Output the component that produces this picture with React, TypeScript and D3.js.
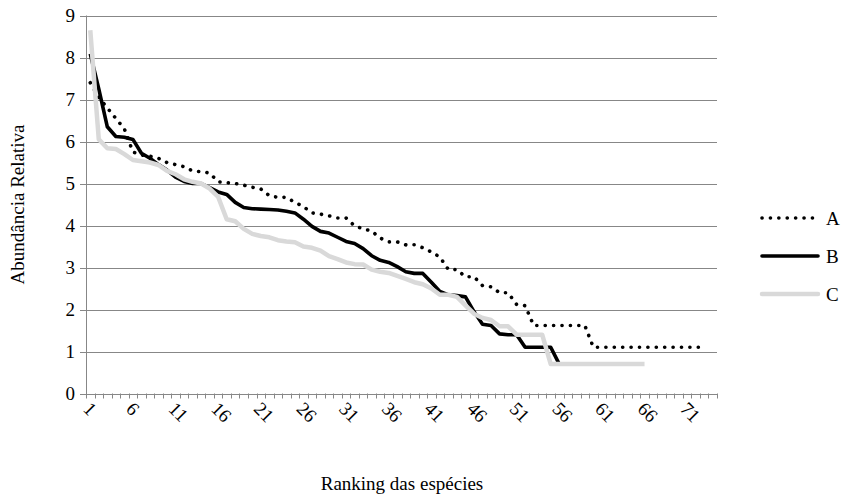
import React from "react";
import * as d3 from "d3";

const categories: string[] = d3.range(1, 75).map(String);
const tickLabels: string[] = ["1","6","11","16","21","26","31","36","41","46","51","56","61","66","71"];
const yTicks: number[] = [0,1,2,3,4,5,6,7,8,9];

const seriesA: number[] = [
  7.4, 7.05, 6.8, 6.55, 6.3, 5.75, 5.68, 5.65, 5.6, 5.5,
  5.45, 5.4, 5.3, 5.28, 5.25, 5.04, 5.02, 5.0, 4.96, 4.91,
  4.87, 4.71, 4.67, 4.67, 4.55, 4.45, 4.3, 4.27, 4.23, 4.18,
  4.18, 3.99, 3.92, 3.87, 3.7, 3.61, 3.61, 3.54, 3.54, 3.47,
  3.37, 3.25, 2.95, 2.95, 2.78, 2.78, 2.57, 2.54, 2.4, 2.4,
  2.12, 2.09, 1.62, 1.62, 1.62, 1.62, 1.62, 1.62, 1.62, 1.1,
  1.1, 1.1, 1.1, 1.1, 1.1, 1.1, 1.1, 1.1, 1.1, 1.1,
  1.1, 1.1, 1.1
];
const seriesB: number[] = [
  8.09, 7.25, 6.35, 6.12, 6.1, 6.05, 5.72, 5.6, 5.45, 5.32,
  5.15, 5.05, 5.0, 5.0, 4.9, 4.8, 4.74, 4.55, 4.43, 4.4,
  4.39, 4.38, 4.37, 4.34, 4.3, 4.15, 3.98, 3.86, 3.82, 3.72,
  3.62, 3.57, 3.45, 3.28, 3.17, 3.12, 3.02, 2.9, 2.86, 2.86,
  2.65, 2.43, 2.35, 2.33, 2.3, 1.95, 1.65, 1.62, 1.42, 1.4,
  1.4, 1.1, 1.1, 1.1, 1.1, 0.7, 0.7
];
const seriesC: number[] = [
  8.65, 6.05, 5.84, 5.82, 5.7, 5.56, 5.53, 5.5, 5.44, 5.3,
  5.22, 5.1, 5.04, 5.0, 4.88, 4.68, 4.15, 4.1, 3.92, 3.8,
  3.75, 3.72, 3.65, 3.62, 3.6, 3.5, 3.47, 3.4, 3.27, 3.2,
  3.12, 3.08, 3.07, 2.95, 2.9, 2.87, 2.8, 2.73, 2.65, 2.6,
  2.5, 2.35, 2.35, 2.3, 2.1, 1.9, 1.8, 1.75, 1.6, 1.6,
  1.4, 1.4, 1.4, 1.4, 0.7, 0.7, 0.7, 0.7, 0.7, 0.7,
  0.7, 0.7, 0.7, 0.7, 0.7, 0.7
];
const seriesNames: string[] = ["A", "B", "C"];

const W = 853, H = 502;
const L = 86, R = 717, T = 15.5, B = 393.5;
const FONT = "'Liberation Serif', 'Times New Roman', serif";
const GRID = "#878787";

export default function App() {
  const x = d3.scaleBand<string>().domain(categories).range([L, R]).padding(0);
  const y = d3.scaleLinear().domain([0, 9]).range([B, T]);
  const cx = (i: number) => (x(categories[i]) as number) + x.bandwidth() / 2;
  const line = d3.line<number>().x((_, i) => cx(i)).y((d) => y(d));

  const styles = [
    { stroke: "#000", width: 3.6, dash: "0.1 8.3", cap: "round" },
    { stroke: "#000", width: 3.6, dash: undefined, cap: "butt" },
    { stroke: "#d9d9d9", width: 4.5, dash: undefined, cap: "butt" },
  ];
  const data = [seriesA, seriesB, seriesC];
  const legendY = [218, 256, 294];

  return (
    <svg width={W} height={H} style={{ position: "absolute", left: 0, top: 0, background: "#fff" }}
      fontFamily={FONT}>
      {yTicks.map((t) => (
        <g key={t}>
          <line x1={L - 6} x2={R} y1={Math.round(y(t)) + 0.5} y2={Math.round(y(t)) + 0.5}
            stroke={GRID} strokeWidth={1} />
          <text x={75} y={y(t)} dy="0.35em" textAnchor="end" fontSize={19} fill="#000">{t}</text>
        </g>
      ))}
      <line x1={L + 0.5} x2={L + 0.5} y1={T} y2={B + 0.5} stroke={GRID} strokeWidth={1} />
      {d3.range(0, categories.length + 1).map((k) => {
        const xx = k < categories.length ? (x(categories[k]) as number) : R;
        return <line key={k} x1={Math.round(xx) + 0.5} x2={Math.round(xx) + 0.5}
          y1={B} y2={B + 5} stroke={GRID} strokeWidth={1} />;
      })}
      {tickLabels.map((lab) => {
        const i = categories.indexOf(lab);
        const px = cx(i) - 8;
        const py = 410;
        return (
          <text key={lab} transform={`translate(${px},${py}) rotate(45)`} textAnchor="start"
            fontSize={19} fill="#000">{lab}</text>
        );
      })}
      {data.map((d, si) => (
        <path key={si} d={line(d) as string} fill="none" stroke={styles[si].stroke}
          strokeWidth={styles[si].width} strokeDasharray={styles[si].dash}
          strokeLinecap={styles[si].cap as any} strokeLinejoin="round" />
      ))}
      {seriesNames.map((n, si) => (
        <g key={n}>
          <line x1={762} x2={818} y1={legendY[si]} y2={legendY[si]} stroke={styles[si].stroke}
            strokeWidth={styles[si].width} strokeDasharray={styles[si].dash}
            strokeLinecap={si === 0 ? "round" : "round"} />
          <text x={826} y={legendY[si]} dy="0.35em" fontSize={19} fill="#000">{n}</text>
        </g>
      ))}
      <text transform={`translate(24,${(T + B) / 2}) rotate(-90)`} textAnchor="middle"
        fontSize={19} fill="#000">Abundância Relativa</text>
      <text x={402} y={490} textAnchor="middle" fontSize={19} fill="#000">Ranking das espécies</text>
    </svg>
  );
}
